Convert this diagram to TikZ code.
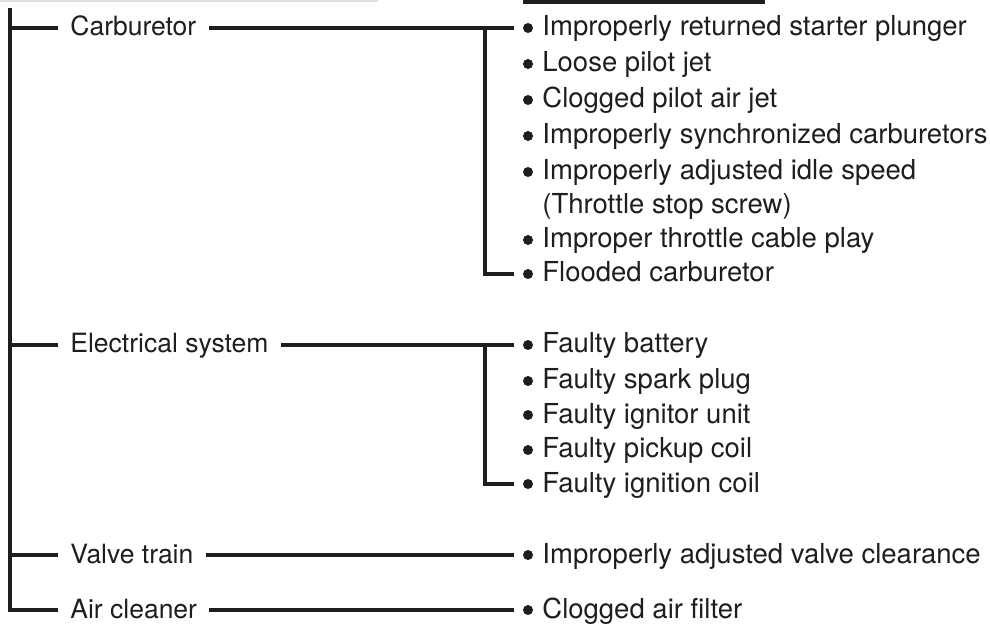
\documentclass[tikz,border=0pt]{standalone}
\usepackage{fontspec}
\setmainfont{TeX Gyre Heros}
\definecolor{ink}{HTML}{1E1E1E}
\begin{document}
\begin{tikzpicture}[x=0.5pt,y=-0.5pt,
  link/.style={draw=ink, line width=2pt},
  catlabel/.style={anchor=west, inner xsep=6pt, inner ysep=0pt, text height=10pt, text depth=2pt,
    font=\fontsize{13.25}{16}\selectfont, text=ink},
  itemlabel/.style={anchor=west, inner xsep=0pt, inner ysep=0pt, text height=10pt, text depth=2pt,
    font=\fontsize{13.75}{16}\selectfont, text=ink},
  dot/.style={circle, fill=ink, inner sep=0pt, minimum size=5pt, outer sep=4.75pt}]
\useasboundingbox (0,0) rectangle (990,625);
\fill[white] (0,0) rectangle (990,625);

% faint scan traces at the top edge
\draw[gray!25, line width=1pt] (0,1) -- (378,1);
\draw[ink, line width=2pt] (523,2) -- (765,2);

% trunk junctions
\coordinate (top) at (10,8);
\coordinate (t1) at (10,28);
\coordinate (t2) at (10,345);
\coordinate (t3) at (10,555);
\coordinate (t4) at (10,610);

% categories
\node[catlabel] (c1) at (58,28) {Carburetor};
\node[catlabel] (c2) at (58,345) {Electrical system};
\node[catlabel] (c3) at (58,555) {Valve train};
\node[catlabel] (c4) at (58,610) {Air cleaner};

% carburetor causes
\foreach \n/\y/\t in {1/28/Improperly returned starter plunger,
                      2/64/Loose pilot jet,
                      3/100/Clogged pilot air jet,
                      4/136/Improperly synchronized carburetors,
                      5/172/Improperly adjusted idle speed,
                      7/240/Improper throttle cable play,
                      8/274/Flooded carburetor}{
  \node[dot] (b1\n) at (528,\y) {};
  \node[itemlabel] (i1\n) at (542,\y) {\t};
}
\node[itemlabel] (i16) at (542,206) {(Throttle stop screw)};

% electrical causes
\foreach \n/\y/\t in {1/345/Faulty battery,
                      2/381/Faulty spark plug,
                      3/415/Faulty ignitor unit,
                      4/450/Faulty pickup coil,
                      5/484/Faulty ignition coil}{
  \node[dot] (b2\n) at (528,\y) {};
  \node[itemlabel] (i2\n) at (542,\y) {\t};
}

% valve train / air cleaner causes
\node[dot] (b31) at (528,555) {};
\node[itemlabel] (i31) at (542,555) {Improperly adjusted valve clearance};
\node[dot] (b41) at (528,610) {};
\node[itemlabel] (i41) at (542,610) {Clogged air filter};

% trunk and branches
\draw[link] (top) -- (t4) -- (c4.west);
\draw[link] (t1) -- (c1.west);
\draw[link] (t2) -- (c2.west);
\draw[link] (t3) -- (c3.west);

% category to causes
\coordinate (s1) at (485,28);
\coordinate (s2) at (485,345);
\draw[link] (c1.east) -- (b11.west);
\draw[link] (s1) -- (s1 |- b18) -- (b18.west);
\draw[link] (c2.east) -- (b21.west);
\draw[link] (s2) -- (s2 |- b25) -- (b25.west);
\draw[link] (c3.east) -- (b31.west);
\draw[link] (c4.east) -- (b41.west);
\end{tikzpicture}
\end{document}
